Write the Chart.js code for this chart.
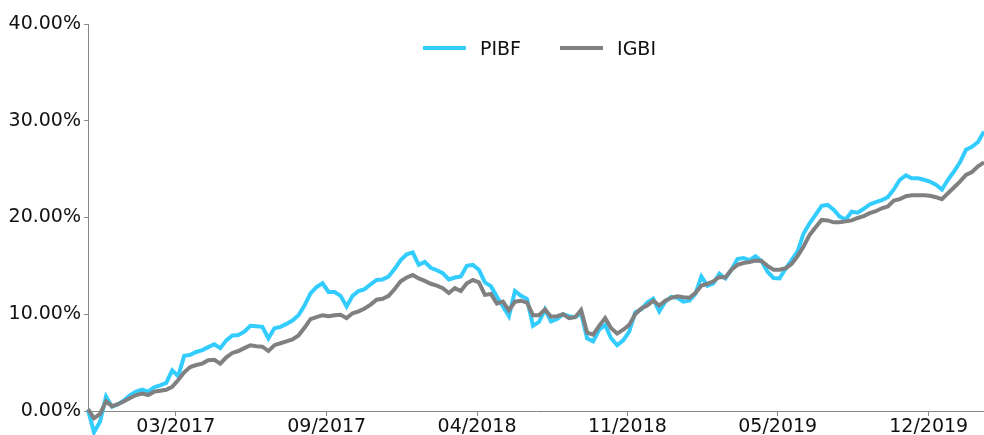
<!DOCTYPE html>
<html>
<head>
<meta charset="utf-8">
<script src="https://cdn.jsdelivr.net/npm/chart.js@4/dist/chart.umd.min.js"></script>
<style>
  body { margin: 0; background: #fff; }
  #wrap { position: relative; width: 984px; height: 435px; }
  #legend {
    position: absolute; top: 37px; left: 423px;
    display: flex; align-items: center;
    font-family: "DejaVu Sans", sans-serif; font-size: 19px; color: #111;
  }
  .item { display: flex; align-items: center; margin-right: 39px; }
  .swatch { width: 43px; height: 4px; margin-right: 14px; }
</style>
</head>
<body>
<div id="wrap">
  <canvas id="chart"></canvas>
  <div id="legend"></div>
</div>
<script>
// cumulative return in %, one sample per ~6px of the original plot
const pibf = [
  0.1, -2.2, -1.1, 1.5, 0.45, 0.7, 1.1, 1.65, 2.0, 2.2,
  2.0, 2.45, 2.65, 2.9, 4.2, 3.6, 5.7, 5.8, 6.1, 6.3,
  6.6, 6.9, 6.5, 7.3, 7.8, 7.85, 8.2, 8.8, 8.75, 8.7,
  7.5, 8.55, 8.7, 9.0, 9.35, 9.9, 10.9, 12.15, 12.8, 13.2,
  12.3, 12.3, 11.9, 10.8, 11.9, 12.4, 12.6, 13.1, 13.55, 13.6,
  13.9, 14.7, 15.6, 16.2, 16.4, 15.1, 15.4, 14.8, 14.55, 14.25,
  13.6, 13.8, 13.9, 15.0, 15.1, 14.6, 13.3, 12.9, 11.8, 10.8,
  9.8, 12.4, 11.9, 11.6, 8.8, 9.2, 10.5, 9.25, 9.5, 10.0,
  9.8, 9.7, 10.1, 7.5, 7.2, 8.4, 8.9, 7.5, 6.8, 7.3,
  8.2, 10.2, 10.5, 11.2, 11.6, 10.3, 11.3, 11.8, 11.7, 11.3,
  11.4, 12.1, 13.9, 12.95, 13.2, 14.2, 13.7, 14.6, 15.7, 15.8,
  15.6, 16.0, 15.5, 14.4, 13.75, 13.7, 14.7, 15.6, 16.5, 18.35,
  19.4, 20.3, 21.2, 21.3, 20.8, 20.1, 19.8, 20.6, 20.5, 20.9,
  21.35, 21.6, 21.8, 22.1, 22.9, 23.9, 24.35, 24.05, 24.05, 23.9,
  23.7, 23.4, 22.9, 23.9, 24.75, 25.7, 27.0, 27.3, 27.8, 28.9
];
const igbi = [
  0.2, -0.75, -0.3, 1.0, 0.5, 0.7, 1.0, 1.35, 1.65, 1.8,
  1.65, 2.0, 2.1, 2.2, 2.5, 3.2, 4.0, 4.55, 4.75, 4.9,
  5.25, 5.3, 4.9, 5.55, 6.0, 6.2, 6.5, 6.8, 6.7, 6.65,
  6.2, 6.8, 7.0, 7.2, 7.4, 7.8, 8.6, 9.5, 9.7, 9.9,
  9.8, 9.9, 9.95, 9.6, 10.1, 10.3, 10.6, 11.0, 11.5, 11.6,
  11.9, 12.6, 13.4, 13.8, 14.05, 13.7, 13.45, 13.15, 12.95, 12.7,
  12.2, 12.7, 12.4, 13.2, 13.55, 13.3, 12.0, 12.1, 11.1, 11.3,
  10.4, 11.3, 11.4, 11.2, 9.9, 9.9, 10.5, 9.75, 9.8, 10.0,
  9.6, 9.7, 10.45, 8.1, 7.9, 8.8, 9.6, 8.55, 8.0, 8.4,
  8.9, 10.0, 10.6, 10.9, 11.4, 10.9, 11.4, 11.7, 11.85, 11.75,
  11.7, 12.2, 12.95, 13.15, 13.4, 13.85, 13.8, 14.6, 15.1, 15.3,
  15.4, 15.55, 15.5, 15.0, 14.6, 14.6, 14.75, 15.2, 16.0, 17.0,
  18.2, 19.0, 19.75, 19.7, 19.5, 19.5, 19.6, 19.7, 19.95, 20.15,
  20.45, 20.65, 20.95, 21.15, 21.75, 21.9, 22.2, 22.3, 22.3, 22.3,
  22.25, 22.1, 21.9, 22.5, 23.1, 23.7, 24.4, 24.7, 25.3, 25.7
];
const tickLabels = ['03/2017', '09/2017', '04/2018', '11/2018', '05/2019', '12/2019'];
const tickIndex = [14.6, 39.7, 64.7, 89.7, 114.7, 139.8];
const yTicks = [0, 10, 20, 30, 40];

const series = [
  { label: 'PIBF', data: pibf, color: '#33ccff', order: 2 },
  { label: 'IGBI', data: igbi, color: '#808080', order: 1 },
];

function initChart() {
  const canvas = document.getElementById('chart');
  const axisColor = '#888';
  const font = { family: '"DejaVu Sans", sans-serif', size: 19 };

  new Chart(canvas, {
    type: 'line',
    data: {
      datasets: series.map((s) => ({
        label: s.label,
        data: s.data.map((v, i) => ({ x: i, y: v })),
        borderColor: s.color,
        backgroundColor: s.color,
        borderWidth: 4,
        pointRadius: 0,
        tension: 0,
        clip: false,
        order: s.order,
      })),
    },
    options: {
      responsive: true,
      maintainAspectRatio: false,
      animation: false,
      layout: { padding: { top: 24, right: 0, left: 0, bottom: 0 } },
      plugins: { legend: { display: false }, tooltip: { enabled: false } },
      scales: {
        x: {
          type: 'linear',
          min: 0,
          max: pibf.length - 1,
          grid: { drawOnChartArea: false, drawTicks: true, tickLength: 5, color: axisColor },
          border: { color: axisColor, width: 1 },
          afterBuildTicks(scale) {
            scale.ticks = tickIndex.map((v) => ({ value: v }));
          },
          afterFit(scale) { scale.height = 24; },
          ticks: {
            color: '#111',
            font,
            padding: 0,
            maxRotation: 0,
            autoSkip: false,
            callback(value) {
              const k = tickIndex.indexOf(value);
              return k >= 0 ? tickLabels[k] : '';
            },
          },
        },
        y: {
          min: 0,
          max: 40,
          grid: { drawOnChartArea: false, drawTicks: true, tickLength: 4, color: axisColor },
          border: { color: axisColor, width: 1 },
          afterBuildTicks(scale) {
            scale.ticks = yTicks.map((v) => ({ value: v }));
          },
          afterFit(scale) { scale.width = 88; },
          ticks: {
            color: '#111',
            font,
            padding: 3,
            callback(value) {
              return Number(value).toFixed(2) + '%';
            },
          },
        },
      },
    },
  });

  const legend = document.getElementById('legend');
  for (const s of series) {
    const item = document.createElement('div');
    item.className = 'item';
    const sw = document.createElement('span');
    sw.className = 'swatch';
    sw.style.background = s.color;
    const txt = document.createElement('span');
    txt.textContent = s.label;
    item.appendChild(sw);
    item.appendChild(txt);
    legend.appendChild(item);
  }
}

document.addEventListener('DOMContentLoaded', initChart);
</script>
</body>
</html>
